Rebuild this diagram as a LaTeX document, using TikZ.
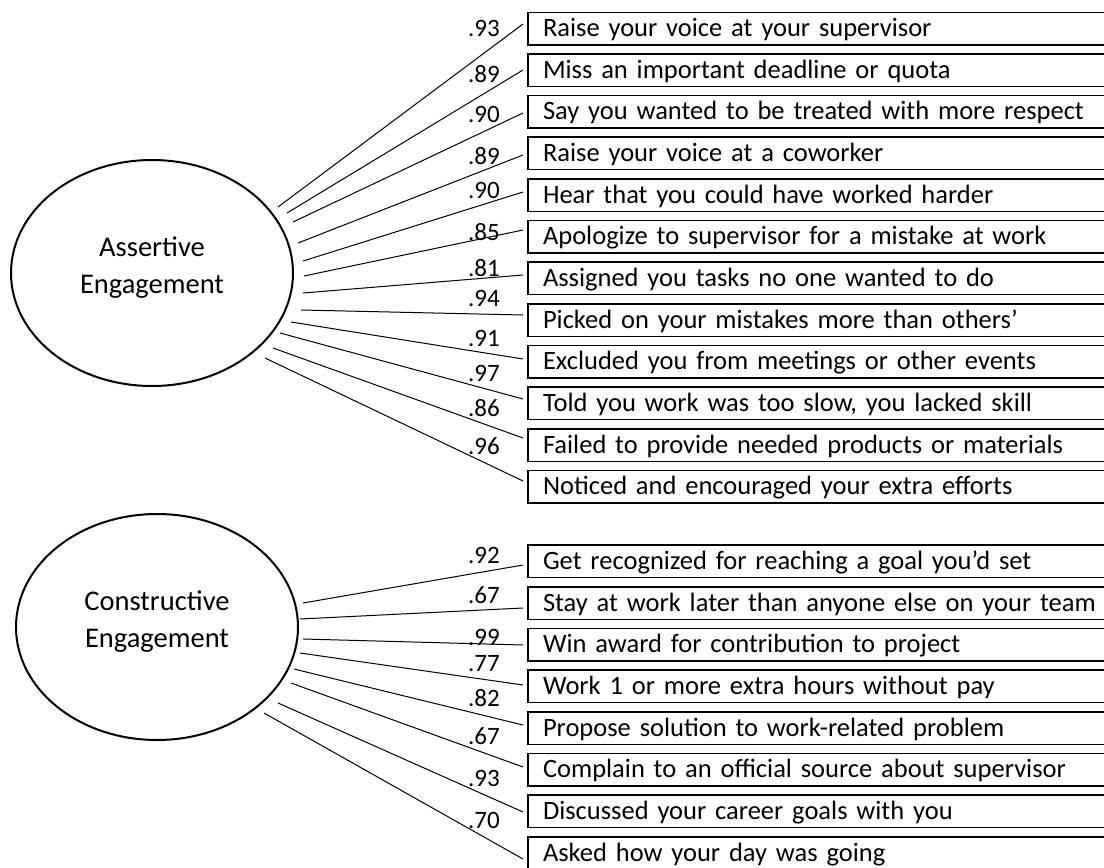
\documentclass[tikz,border=0pt]{standalone}
\usepackage{fontspec}
\setmainfont{Carlito}
\usetikzlibrary{shapes.geometric,calc}
\begin{document}
\begin{tikzpicture}[x=1pt,y=-1pt,
 latent/.style={draw,ellipse,line width=2pt,minimum width=282pt,minimum height=226pt,inner sep=0pt},
 latlabel/.style={align=center,font=\fontsize{28.5pt}{37pt}\selectfont,inner sep=0pt},
 itembox/.style={draw,line width=1.6pt,anchor=north west,outer sep=0pt,minimum width=610pt,minimum height=32.5pt,inner ysep=0pt,inner xsep=14pt,text width=580pt,align=left,text height=20pt,text depth=4pt,font=\fontsize{26.5pt}{32pt}\selectfont},
 loading/.style={anchor=base east,inner sep=0pt,font=\fontsize{25pt}{30pt}\selectfont},
 conn/.style={line width=1pt}]
\useasboundingbox (0,0) rectangle (1104,868);
\clip (0,0) rectangle (1104,868);
\fill[white] (0,0) rectangle (1104,868);

\node[latent] (A) at (152,273) {};
\node[latlabel,yshift=5pt] (At) at (A.center) {Assertive\\Engagement};
\node[latent] (C) at (157,627) {};
\node[latlabel,yshift=5pt] (Ct) at (C.center) {Constructive\\Engagement};

\foreach \i/\ty/\txt/\lab/\ly/\sx/\sy/\ey in {
 1/12.5/{Raise your voice at your supervisor}/.93/29/278/207/24,
 2/54/{Miss an important deadline or quota}/.89/75/287/213/70,
 3/95.5/{Say you wanted to be treated with more respect}/.90/115/293/222/113,
 4/137/{Raise your voice at a coworker}/.89/157/298/243/155,
 5/179/{Hear that you could have worked harder}/.90/191/303/261/192,
 6/220.5/{Apologize to supervisor for a mistake at work}/.85/233/304/276/230,
 7/262/{Assigned you tasks no one wanted to do}/.81/269/303/293/275,
 8/304/{Picked on your mistakes more than others’}/.94/299/301/310/315,
 9/345.5/{Excluded you from meetings or other events}/.91/339/291/322/359,
 10/387/{Told you work was too slow, you lacked skill}/.97/374/280/333/399,
 11/429/{Failed to provide needed products or materials}/.86/409/273/348/438,
 12/470.5/{Noticed and encouraged your extra efforts}/.96/447/265/358/481}{
 \node[itembox] (a\i) at (528,\ty) {\txt};
 \node[loading] (la\i) at (500,{\ly+7}) {\lab};
 \draw[conn] ($(A.center)+({\sx-152},{\sy-273})$) -- ($(a\i.west)+(-5,{\ey-\ty-16.25})$);
}

\foreach \i/\ty/\txt/\lab/\ly/\sx/\sy/\ey in {
 1/545/{Get recognized for reaching a goal you’d set}/.92/556/303/603/565,
 2/587/{Stay at work later than anyone else on your team}/.67/596/300/619/608,
 3/628.5/{Win award for contribution to project}/.99/638/303/639/645,
 4/670/{Work 1 or more extra hours without pay}/.77/664/300/653/685,
 5/712/{Propose solution to work-related problem}/.82/699/294/669/725,
 6/753.5/{Complain to an official source about supervisor}/.67/737/291/683/767,
 7/795/{Discussed your career goals with you}/.93/779/278/703/812,
 8/837/{Asked how your day was going}/.70/821/264/713/859}{
 \node[itembox] (c\i) at (528,\ty) {\txt};
 \node[loading] (lc\i) at (500,{\ly+7}) {\lab};
 \draw[conn] ($(C.center)+({\sx-157},{\sy-627})$) -- ($(c\i.west)+(-5,{\ey-\ty-16.25})$);
}
\end{tikzpicture}
\end{document}
